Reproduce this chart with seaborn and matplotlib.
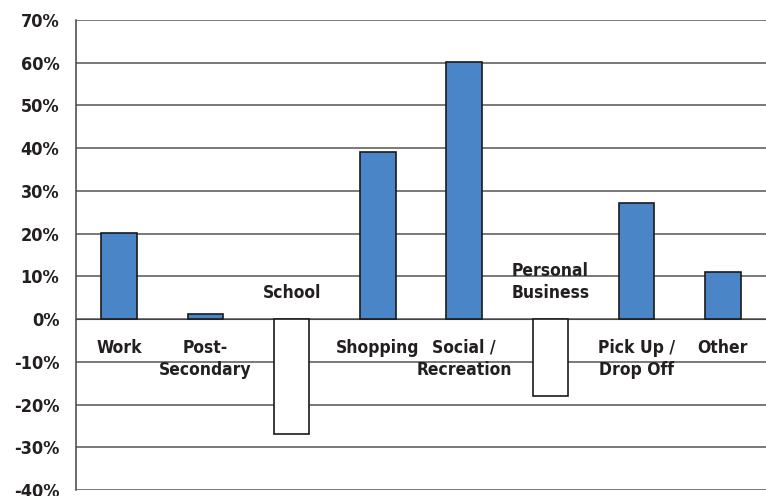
import numpy as np
import pandas as pd
import matplotlib
matplotlib.use("Agg")
import matplotlib.pyplot as plt
import seaborn as sns

# ---------------- data ----------------
categories = ["Work", "Post-\nSecondary", "School", "Shopping", "Social /\nRecreation",
              "Personal\nBusiness", "Pick Up /\nDrop Off", "Other"]
change_pct = [20.2, 1.2, -27.0, 39.0, 60.2, -18.0, 27.1, 11.0]
y_ticks = [-40, -30, -20, -10, 0, 10, 20, 30, 40, 50, 60, 70]

BLUE = "#4A86C7"
TXT = "#231F20"

sns.set_style("white")
plt.rcParams["font.family"] = ["DejaVu Sans Condensed", "DejaVu Sans"]
plt.rcParams["font.stretch"] = "condensed"
plt.rcParams["font.weight"] = "bold"

df = pd.DataFrame({"cat": categories, "val": change_pct})
df["sign"] = np.where(df["val"] >= 0, "pos", "neg")

fig = plt.figure(figsize=(7.66, 4.96), dpi=100)
ax = fig.add_axes([76 / 766, 6 / 496, 1 - 76 / 766, 470 / 496])

sns.barplot(data=df, x="cat", y="val", hue="sign", palette={"pos": BLUE, "neg": "white"},
            dodge=False, legend=False, width=0.41, edgecolor="#1a1a1a", linewidth=1.2,
            saturation=1, zorder=3, ax=ax)

ax.set_ylim(-40, 70)
ax.set_xlim(-0.5, len(categories) - 0.5)
ax.set_yticks(y_ticks)
ax.set_yticklabels([f"{v}%" for v in y_ticks], fontsize=13, fontweight="bold", color=TXT)
ax.yaxis.grid(True, color="#555555", linewidth=1.1, zorder=0)
ax.set_axisbelow(True)

# x axis sits on the zero line, ticks between categories
ax.spines["bottom"].set_position(("data", 0))
ax.spines["bottom"].set_color("#444444")
ax.spines["left"].set_color("#444444")
ax.spines["left"].set_linewidth(1.1)
ax.spines["top"].set_visible(False)
ax.spines["right"].set_visible(False)
ax.set_xticks([])
ax.set_xticks(np.arange(-0.5, len(categories), 1.0), minor=True)
ax.tick_params(axis="x", which="minor", length=3, width=1, color="#444444", direction="out")
ax.tick_params(axis="y", length=6, width=1, color="#444444", direction="out", pad=6)
ax.set_xlabel("")
ax.set_ylabel("")

# category labels: below zero for positive bars, above zero for negative bars
for i, (cat, v) in enumerate(zip(categories, change_pct)):
    if v >= 0:
        ax.annotate(cat, (i, 0), xytext=(0, -14), textcoords="offset points",
                    ha="center", va="top", fontsize=12.5, fontweight="bold",
                    color=TXT, linespacing=1.3)
    else:
        ax.annotate(cat, (i, 0), xytext=(0, 12), textcoords="offset points",
                    ha="center", va="bottom", fontsize=12.5, fontweight="bold",
                    color=TXT, linespacing=1.3)

plt.savefig("out.png", dpi=100)
